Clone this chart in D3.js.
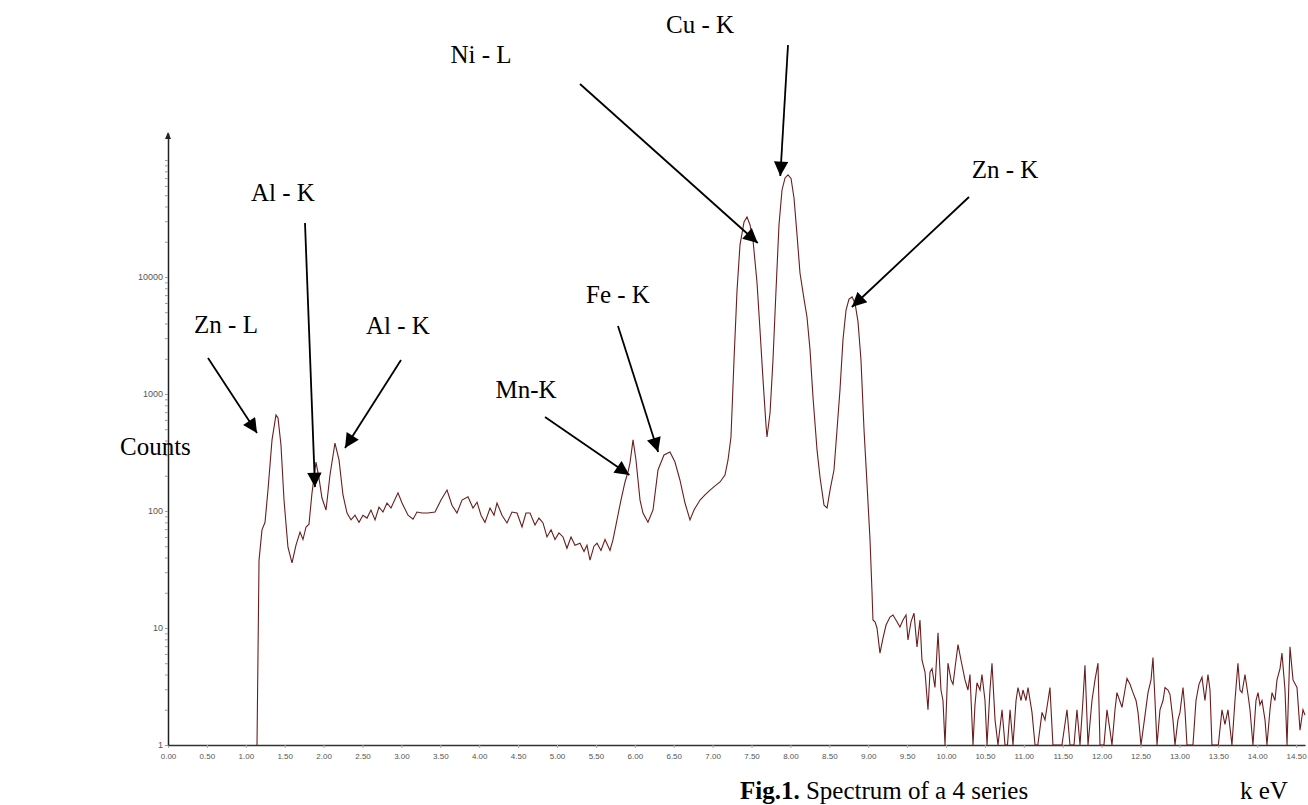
<!DOCTYPE html>
<html>
<head>
<meta charset="utf-8">
<script src="https://cdn.jsdelivr.net/npm/d3@7"></script>
<style>
  body { margin: 0; background: #fff; }
  .tick text { fill: #555; font-family: "Liberation Sans", Arial, sans-serif; font-size: 8px; }
  .anno { font-family: "Liberation Serif", "Times New Roman", serif; font-size: 25px; fill: #000; }
</style>
</head>
<body>
<div id="chart"></div>
<script>
// EDS spectrum: [energy keV, counts]
var spectrum = [
  [1.144,1],[1.170,38],[1.208,69],[1.247,80],[1.285,151],[1.337,405],[1.388,662],[1.414,624],
  [1.452,366],[1.491,124],[1.542,49],[1.594,36],[1.645,51],[1.697,66],[1.735,57],[1.774,73],
  [1.812,77],[1.851,143],[1.902,262],[1.941,191],[1.979,129],[2.031,102],[2.082,203],[2.146,381],
  [2.198,273],[2.249,137],[2.301,96],[2.352,84],[2.403,92],[2.455,80],[2.506,92],[2.558,87],
  [2.609,102],[2.661,84],[2.712,108],[2.763,98],[2.815,117],[2.866,106],[2.956,143],[3.008,117],
  [3.085,92],[3.149,85],[3.200,98],[3.265,96],[3.342,96],[3.432,98],[3.509,124],[3.586,151],
  [3.650,112],[3.714,96],[3.779,124],[3.856,132],[3.920,106],[3.972,119],[4.023,92],[4.074,80],
  [4.139,106],[4.190,92],[4.229,117],[4.293,92],[4.357,79],[4.421,98],[4.486,96],[4.550,73],
  [4.601,96],[4.653,96],[4.717,76],[4.768,87],[4.820,79],[4.871,60],[4.923,69],[4.974,57],
  [5.025,65],[5.077,60],[5.128,48],[5.180,60],[5.231,51],[5.295,53],[5.347,45],[5.385,51],
  [5.424,38],[5.475,50],[5.514,53],[5.565,46],[5.617,57],[5.681,46],[5.720,57],[5.771,84],
  [5.822,124],[5.874,177],[5.912,215],[5.938,257],[5.977,405],[6.015,273],[6.067,124],[6.105,96],
  [6.169,80],[6.234,102],[6.298,224],[6.375,301],[6.452,319],[6.516,262],[6.580,184],[6.645,117],
  [6.709,84],[6.761,102],[6.838,124],[6.902,137],[6.967,151],[7.031,164],[7.095,177],[7.159,203],
  [7.198,273],[7.236,429],[7.275,1950],[7.314,7740],[7.352,18800],[7.404,29500],[7.442,32600],[7.481,27800],
  [7.519,20700],[7.571,8890],[7.609,3520],[7.648,1320],[7.686,543],[7.699,429],[7.738,688],[7.776,1950],
  [7.815,7740],[7.853,27800],[7.892,55400],[7.931,70200],[7.969,74500],[8.008,69600],[8.046,47300],[8.085,22900],
  [8.123,10800],[8.175,6460],[8.213,4550],[8.252,2380],[8.290,942],[8.342,333],[8.380,195],[8.432,112],
  [8.471,106],[8.509,151],[8.560,224],[8.599,494],[8.637,1080],[8.676,2930],[8.715,5220],[8.753,6460],
  [8.792,6750],[8.830,6000],[8.869,4130],[8.907,1950],[8.946,494],[8.984,173],[9.023,57],[9.048,21],
  [9.061,11.7],[9.087,11.3],[9.113,10],[9.151,6.1],[9.190,8.2],[9.229,10.6],[9.280,12.4],[9.318,12.9],
  [9.370,11.3],[9.408,10.2],[9.447,11.7],[9.486,12.9],[9.511,7.9],[9.550,11.3],[9.588,13.4],[9.627,6.9],
  [9.665,11.7],[9.691,5.3],[9.730,4.2],[9.768,2.0],[9.794,4.2],[9.820,4.5],[9.858,3.1],[9.897,9.1],
  [9.935,2.95],[9.961,2.4],[9.987,1],[10.025,5.0],[10.064,3.6],[10.090,3.3],[10.128,5.3],[10.154,7.2],
  [10.193,5.3],[10.244,3.6],[10.282,2.95],[10.308,4.0],[10.347,1],[10.372,2.2],[10.398,3.4],[10.437,2.95],
  [10.462,4.0],[10.501,2.4],[10.527,1],[10.565,2.95],[10.591,5.0],[10.630,1.64],[10.668,1],[10.720,2.0],
  [10.758,1],[10.790,1],[10.823,2.0],[10.861,1],[10.900,2.4],[10.925,3.1],[10.964,2.4],[10.989,2.95],
  [11.028,2.4],[11.054,3.1],[11.105,1.9],[11.144,1],[11.180,1],[11.234,1.9],[11.272,1.64],[11.311,2.4],
  [11.336,3.1],[11.374,1],[11.490,1],[11.555,2.0],[11.593,1],[11.645,1],[11.683,2.0],[11.722,1],
  [11.760,2.4],[11.786,4.8],[11.825,1],[11.876,2.4],[11.915,3.6],[11.953,5.0],[11.979,1],[12.030,1],
  [12.069,2.0],[12.107,1.34],[12.133,1],[12.172,2.0],[12.197,2.8],[12.262,2.1],[12.300,2.95],[12.326,3.7],
  [12.365,3.3],[12.403,2.8],[12.442,2.4],[12.468,1.9],[12.506,1],[12.558,1.8],[12.596,2.8],[12.635,3.6],
  [12.660,5.6],[12.686,2.4],[12.712,1],[12.750,2.0],[12.789,2.4],[12.815,3.1],[12.853,2.95],[12.879,2.7],
  [12.917,1.64],[12.943,1],[12.981,1.64],[13.007,1.9],[13.046,3.1],[13.071,2.0],[13.097,1],[13.174,1],
  [13.213,2.4],[13.251,3.3],[13.290,3.8],[13.328,2.4],[13.367,4.0],[13.393,2.95],[13.418,1],[13.500,1],
  [13.547,2.0],[13.585,1.5],[13.624,2.0],[13.675,1],[13.714,2.4],[13.752,5.0],[13.778,2.95],[13.804,2.8],
  [13.843,4.0],[13.881,2.7],[13.907,2.0],[13.945,1],[13.984,2.4],[14.010,2.8],[14.035,2.2],[14.061,2.4],
  [14.100,1.64],[14.125,1],[14.164,2.0],[14.190,2.8],[14.228,2.4],[14.254,3.6],[14.293,4.5],[14.318,6.1],
  [14.357,2.95],[14.383,1],[14.421,6.9],[14.460,3.6],[14.511,3.1],[14.550,1.34],[14.588,2.0],[14.614,1.8]
];

var xTickValues = [0,0.5,1,1.5,2,2.5,3,3.5,4,4.5,5,5.5,6,6.5,7,7.5,8,8.5,9,9.5,10,10.5,11,11.5,12,12.5,13,13.5,14,14.5];
var yTickValues = [1,10,100,1000,10000];

// peak labels: text, tip of the arrow in data units (keV, counts)
var peakLabels = ["Zn - L","Al - K","Al - K","Mn-K","Fe - K","Ni - L","Cu - K","Zn - K"];
var peakTipKeV = [1.144,1.889,2.275,5.93,6.30,7.58,7.87,8.79];
var peakTipCounts = [464,160,345,203,319,19500,73000,5540];
// label placement on the page (text centre x, baseline y, arrow tail x, y)
var labelPos = [
  [226,333,208,358],[283,201,305,223],[398,334,401,360],[526,398,545,417],
  [618,303,618,326],[481,63,580,84],[700,33,788,45],[1005,178,969,197]
];

var svgWidth = 1308, svgHeight = 805;
var margin = {top: 133, left: 168, right: 3, bottom: 60};
var plotBottom = 745;

var svg = d3.select("#chart").append("svg")
  .attr("width", svgWidth)
  .attr("height", svgHeight);

var x = d3.scaleLinear().domain([0, 14.614]).range([margin.left, svgWidth - margin.right]);
var y = d3.scaleLog().domain([1, 170000]).range([plotBottom, margin.top]);

// x axis
var xAxis = d3.axisBottom(x)
  .tickValues(xTickValues)
  .tickFormat(d3.format(".2f"))
  .tickSize(3)
  .tickSizeOuter(0);
var gx = svg.append("g").attr("transform", `translate(0, ${plotBottom})`).call(xAxis);
gx.select(".domain").attr("stroke", "#333").attr("stroke-width", 1.5);
gx.selectAll(".tick line").attr("stroke", "#aaa");
gx.selectAll(".tick text").attr("dy", "0.95em");

// y axis with minor ticks
var yAll = [];
for (var k = 0; k <= 5; k++) {
  for (var m = 1; m <= 9; m++) {
    var v = m * Math.pow(10, k);
    if (v <= 170000) yAll.push(v);
  }
}
var yAxis = d3.axisLeft(y)
  .tickValues(yAll)
  .tickFormat(d => yTickValues.indexOf(d) >= 0 ? d : "")
  .tickSize(3)
  .tickSizeOuter(0);
var gy = svg.append("g").attr("transform", `translate(${margin.left}, 0)`).call(yAxis);
gy.select(".domain").attr("stroke", "#222").attr("stroke-width", 1.5);
gy.selectAll(".tick line").attr("stroke", "#999");
gy.selectAll(".tick text").attr("x", -5).style("font-size", "9px");

// arrow at the top of the y axis
svg.append("path")
  .attr("d", `M${margin.left - 3},${margin.top + 6} L${margin.left},${margin.top - 1} L${margin.left + 3},${margin.top + 6} Z`)
  .attr("fill", "#222");

// spectrum line
var line = d3.line()
  .x(d => x(d[0]))
  .y(d => y(Math.max(1, d[1])));

svg.append("path")
  .datum(spectrum)
  .attr("fill", "none")
  .attr("stroke", "#6b1d1d")
  .attr("stroke-width", 1.1)
  .attr("d", line);

// arrows
var defs = svg.append("defs");
defs.append("marker")
  .attr("id", "head")
  .attr("viewBox", "0 0 10 10")
  .attr("refX", 10).attr("refY", 5)
  .attr("markerWidth", 9).attr("markerHeight", 8)
  .attr("markerUnits", "strokeWidth")
  .attr("orient", "auto")
  .append("path")
  .attr("d", "M0,0 L10,5 L0,10 Z")
  .attr("fill", "#000");

peakLabels.forEach(function(txt, i) {
  var p = labelPos[i];
  svg.append("line")
    .attr("x1", p[2]).attr("y1", p[3])
    .attr("x2", x(peakTipKeV[i])).attr("y2", y(peakTipCounts[i]))
    .attr("stroke", "#000")
    .attr("stroke-width", 1.8)
    .attr("marker-end", "url(#head)");
  svg.append("text")
    .attr("class", "anno")
    .attr("x", p[0]).attr("y", p[1])
    .attr("text-anchor", "middle")
    .text(txt);
});

// axis titles and caption
svg.append("text").attr("class", "anno")
  .attr("x", 120).attr("y", 455)
  .text("Counts");

svg.append("text").attr("class", "anno")
  .attr("x", 1240).attr("y", 799)
  .text("k eV");

var cap = svg.append("text").attr("class", "anno")
  .attr("x", 740).attr("y", 799);
cap.append("tspan").attr("font-weight", "bold").text("Fig.1.");
cap.append("tspan").text(" Spectrum of a 4 series");
</script>
</body>
</html>
